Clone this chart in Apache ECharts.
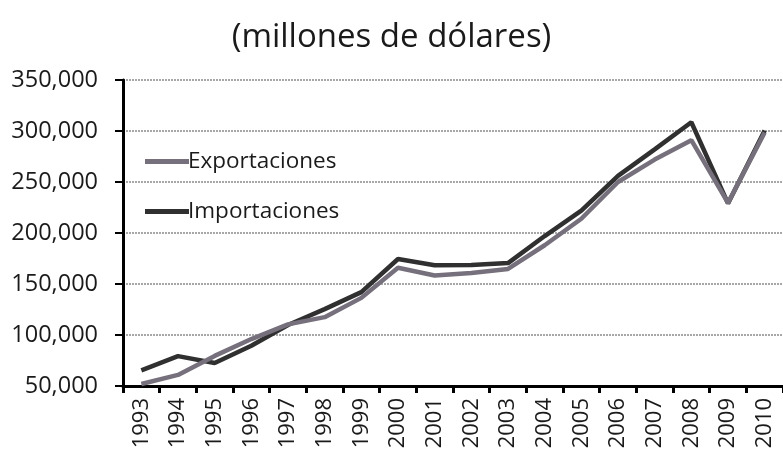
<!DOCTYPE html>
<html>
<head>
<meta charset="utf-8">
<script src="https://cdn.jsdelivr.net/npm/echarts@6/dist/echarts.min.js"></script>
<style>
  html, body { margin: 0; padding: 0; background: #fff; }
  #chart { width: 783px; height: 460px; }
</style>
</head>
<body>
<div id="chart"></div>
<script>
// Años y series de comercio exterior (millones de dólares)
var years = ['1993','1994','1995','1996','1997','1998','1999','2000','2001',
             '2002','2003','2004','2005','2006','2007','2008','2009','2010'];
var exportaciones = [52000, 60900, 79500, 96000, 110400, 117500, 136400, 166000, 158400,
                     160700, 164800, 188000, 214000, 250000, 272000, 291000, 229500, 298500];
var importaciones = [65400, 79300, 72500, 89500, 109800, 125400, 142000, 174500, 168400,
                     168700, 170500, 197000, 222000, 256000, 282000, 308600, 229000, 300500];
var yTicks = { min: 50000, max: 350000, step: 50000 };

var fontFam = '"Open Sans", "Noto Sans", sans-serif';
var chart = echarts.init(document.getElementById('chart'), null, { renderer: 'canvas' });

chart.setOption({
  backgroundColor: '#ffffff',
  animation: false,
  title: {
    text: '(millones de dólares)',
    left: 'center',
    top: 16,
    textStyle: { fontFamily: fontFam, fontSize: 33, fontWeight: 'normal', color: '#1a1a1a' }
  },
  legend: {
    orient: 'vertical',
    left: 140,
    top: 145,
    itemGap: 27,
    itemWidth: 44,
    itemHeight: 5,
    icon: 'rect',
    textStyle: { fontFamily: fontFam, fontSize: 22.5, color: '#1a1a1a', padding: [0, 0, 0, -6] },
    data: ['Exportaciones', 'Importaciones']
  },
  grid: { left: 123, top: 80, width: 675, height: 306 },
  xAxis: {
    type: 'category',
    data: years,
    boundaryGap: true,
    axisLine: { lineStyle: { color: '#000', width: 3 } },
    axisTick: { show: true, length: 7, lineStyle: { color: '#000', width: 3 } },
    axisLabel: { rotate: 90, margin: 12, fontFamily: fontFam, fontSize: 22, color: '#1a1a1a' },
    splitLine: { show: false }
  },
  yAxis: {
    type: 'value',
    min: yTicks.min,
    max: yTicks.max,
    interval: yTicks.step,
    axisLine: { show: true, lineStyle: { color: '#000', width: 3 } },
    axisTick: { show: true, length: 8, lineStyle: { color: '#000', width: 2 } },
    axisLabel: {
      margin: 25, fontFamily: fontFam, fontSize: 23.5, color: '#1a1a1a',
      formatter: function (v) { return v.toLocaleString('en-US'); }
    },
    splitLine: { show: true, lineStyle: { color: '#8a8a8a', width: 1.5, type: [2, 1] } }
  },
  series: [
    {
      name: 'Exportaciones',
      type: 'line',
      data: exportaciones,
      symbol: 'none',
      itemStyle: { color: '#76707c' },
      lineStyle: { color: '#76707c', width: 4.5 },
      z: 3
    },
    {
      name: 'Importaciones',
      type: 'line',
      data: importaciones,
      symbol: 'none',
      itemStyle: { color: '#303030' },
      lineStyle: { color: '#303030', width: 4.5 },
      z: 2
    }
  ]
});
</script>
</body>
</html>
